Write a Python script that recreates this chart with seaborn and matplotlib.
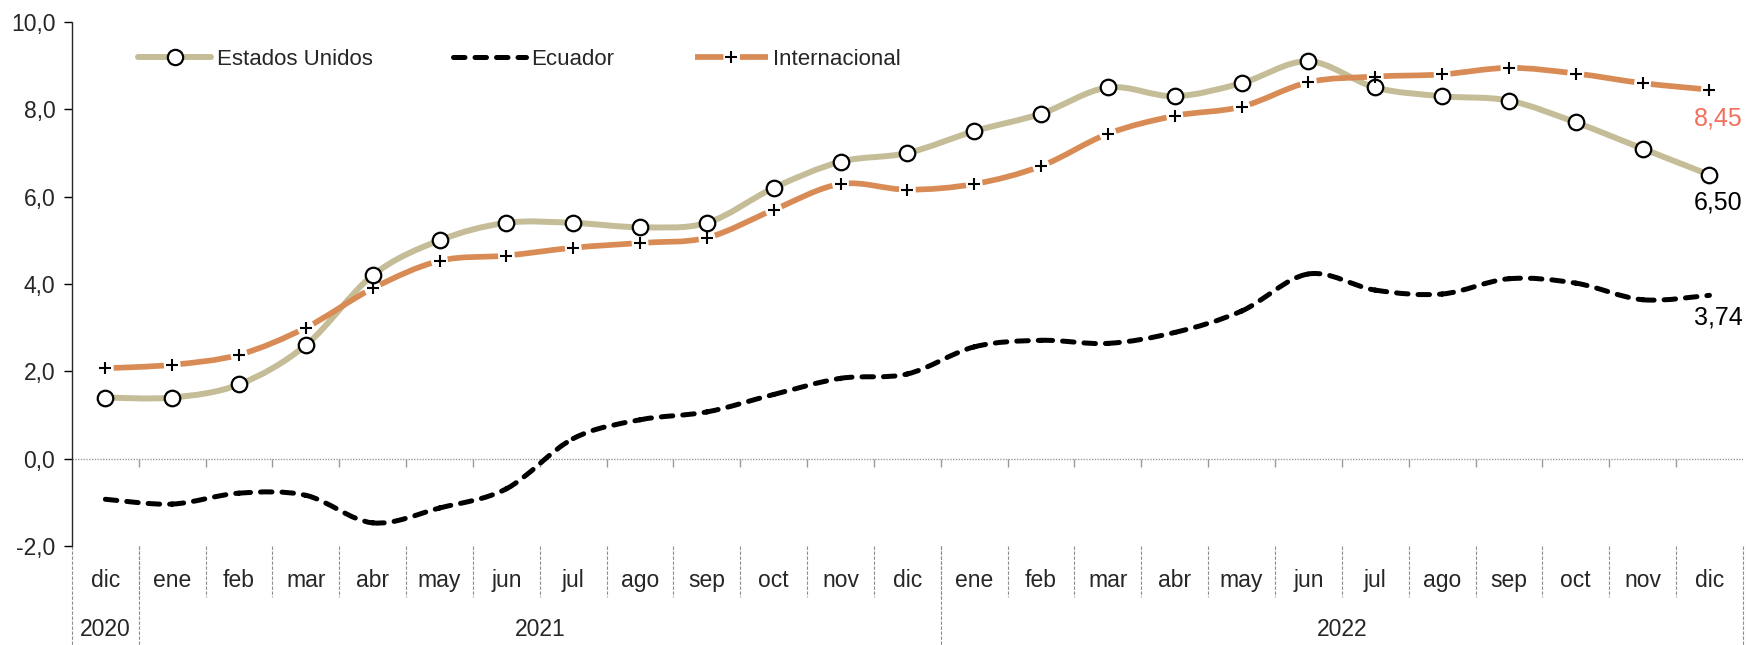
import numpy as np
import pandas as pd
import matplotlib
matplotlib.use("Agg")
import matplotlib.pyplot as plt
import seaborn as sns
from matplotlib.path import Path
from matplotlib.patches import PathPatch
from matplotlib.lines import Line2D

# Data: inflation (%), dic 2020 - dic 2022
meses = ['dic', 'ene', 'feb', 'mar', 'abr', 'may', 'jun', 'jul', 'ago', 'sep', 'oct', 'nov',
         'dic', 'ene', 'feb', 'mar', 'abr', 'may', 'jun', 'jul', 'ago', 'sep', 'oct', 'nov', 'dic']
anios = ['2020', '2021', '2022']
meses_por_anio = [1, 12, 12]

estados_unidos = [1.4, 1.4, 1.7, 2.6, 4.2, 5.0, 5.4, 5.4, 5.3, 5.4, 6.2, 6.8,
                  7.0, 7.5, 7.9, 8.5, 8.3, 8.6, 9.1, 8.5, 8.3, 8.2, 7.7, 7.1, 6.5]
ecuador = [-0.93, -1.04, -0.79, -0.84, -1.47, -1.13, -0.69, 0.46, 0.89, 1.07, 1.47, 1.84,
           1.94, 2.56, 2.71, 2.64, 2.89, 3.38, 4.23, 3.86, 3.77, 4.12, 4.02, 3.64, 3.74]
internacional = [2.07, 2.15, 2.38, 3.0, 3.9, 4.53, 4.65, 4.83, 4.94, 5.06, 5.7, 6.29,
                 6.16, 6.29, 6.7, 7.44, 7.85, 8.06, 8.62, 8.75, 8.8, 8.95, 8.82, 8.6, 8.45]

df = pd.DataFrame({'x': np.arange(len(meses)), 'EEUU': estados_unidos,
                   'Ecuador': ecuador, 'Internacional': internacional})

sns.set_style("white")
plt.rcParams['font.family'] = ['Liberation Sans', 'DejaVu Sans']
plt.rcParams['font.size'] = 16

c_eeuu = '#C4BD97'
c_int = '#D98B55'
c_lbl = '#F2705E'
c_sep = '#8C8C8C'


def segmentos(y):
    # smoothed line (Excel style): one cubic bezier per segment, in data coords
    pts = np.column_stack([np.arange(len(y)), np.asarray(y, float)])
    n = len(pts)
    segs = []
    for i in range(n - 1):
        p0 = pts[max(i - 1, 0)]
        p1 = pts[i]
        p2 = pts[i + 1]
        p3 = pts[min(i + 2, n - 1)]
        segs.append(Path([p1, p1 + (p2 - p0) / 6, p2 - (p3 - p1) / 6, p2],
                         [Path.MOVETO, Path.CURVE4, Path.CURVE4, Path.CURVE4]))
    return segs


def curva(ax, y, **kw):
    path = Path.make_compound_path(*segmentos(y))
    ax.add_patch(PathPatch(path, fill=False, **kw))


fig = plt.figure(figsize=(17.46, 6.45), dpi=100)
ax = fig.add_axes([0.0412, 0.1535, 0.957, 0.8124])
ax.set_xlim(-0.5, len(meses) - 0.5)
ax.set_ylim(-2, 10)

curva(ax, df['Ecuador'], edgecolor='black', lw=3.6, linestyle=(0, (2.3, 2.0)),
      capstyle='round', zorder=3)
curva(ax, df['EEUU'], edgecolor=c_eeuu, lw=4.3, capstyle='round', zorder=4)

# Internacional: one long dash per segment, broken at each marker
gap = 6.0  # points on each side of a marker
lw_int = 4.1
for seg in segmentos(df['Internacional']):
    poly = ax.transData.transform_path(seg).to_polygons(closed_only=False)[0]
    largo = np.sum(np.hypot(*np.diff(poly, axis=0).T)) * 72 / fig.dpi
    on = max(largo - 2 * gap, 0.1)
    ax.add_patch(PathPatch(seg, fill=False, edgecolor=c_int, lw=lw_int, capstyle='butt',
                           linestyle=((on + gap) / lw_int, (on / lw_int, 2 * gap / lw_int)),
                           zorder=5))

sns.scatterplot(data=df, x='x', y='EEUU', ax=ax, marker='o', s=125, color='white',
                edgecolor='black', linewidth=1.6, zorder=6, legend=False)
sns.scatterplot(data=df, x='x', y='Internacional', ax=ax, marker='+', s=85, color='black',
                linewidth=1.5, zorder=7, legend=False)

ax.set_xlabel('')
ax.set_ylabel('')
yt = np.arange(-2, 10.1, 2)
ax.set_yticks(yt)
ax.set_yticklabels([f"{v:.1f}".replace('.', ',') for v in yt], fontsize=16.5)
ax.set_xticks([])
for s in ['top', 'right', 'bottom']:
    ax.spines[s].set_visible(False)
ax.spines['left'].set_linestyle((0, (1, 1)))
ax.spines['left'].set_linewidth(1)
ax.tick_params(axis='y', left=True, length=6, width=1, pad=6, color='black')

# zero line and its ticks
ax.axhline(0, color='#999999', lw=1, ls=(0, (1, 1)), zorder=1)
ax.vlines(np.arange(0.5, len(meses) - 0.5), -0.19, 0, color='#999999', lw=1, zorder=1)

# category axis below plot
tr = ax.get_xaxis_transform()
for i, m in enumerate(meses):
    ax.text(i, -0.065, m, transform=tr, ha='center', va='center', fontsize=16.5)
for b in np.arange(0.5, len(meses) - 0.5):
    ax.plot([b, b], [0, -0.098], transform=tr, color=c_sep, lw=0.8,
            ls=(0, (3, 1.5)), clip_on=False)
inicio = -0.5
for a, k in zip(anios, meses_por_anio):
    ax.text(inicio + k / 2, -0.16, a, transform=tr, ha='center', va='center', fontsize=16.5)
    ax.plot([inicio, inicio], [0, -0.2], transform=tr, color=c_sep, lw=0.8,
            ls=(0, (3, 1.5)), clip_on=False)
    inicio += k
ax.plot([inicio, inicio], [0, -0.2], transform=tr, color=c_sep, lw=0.8,
        ls=(0, (3, 1.5)), clip_on=False)

# end labels
for val, col, dy in [(internacional[-1], c_lbl, -21), (estados_unidos[-1], 'black', -20),
                     (ecuador[-1], 'black', -16)]:
    ax.annotate(f"{val:.2f}".replace('.', ','), xy=(len(meses) - 0.5, val),
                xytext=(0, dy), textcoords='offset points', ha='right', va='center',
                color=col, fontsize=18, annotation_clip=False)

handles = [
    Line2D([], [], color=c_eeuu, lw=4.3, marker='o', markersize=11, markerfacecolor='white',
           markeredgecolor='black', markeredgewidth=1.6, solid_capstyle='round'),
    Line2D([], [], color='black', lw=3.6, ls=(0, (2.3, 2.0)), dash_capstyle='round'),
    Line2D([], [], color=c_int, lw=lw_int, ls=(0, (5.0, 2.9)), marker='+', markersize=9.2,
           markeredgecolor='black', markeredgewidth=1.5, dash_capstyle='butt'),
]
ax.legend(handles, ['Estados Unidos', 'Ecuador', 'Internacional'], ncol=3, frameon=False,
          loc='upper left', bbox_to_anchor=(0.0275, 0.987), handlelength=3.3,
          columnspacing=3.6, handletextpad=0.25, fontsize=16)

fig.savefig('out.png', dpi=100)
